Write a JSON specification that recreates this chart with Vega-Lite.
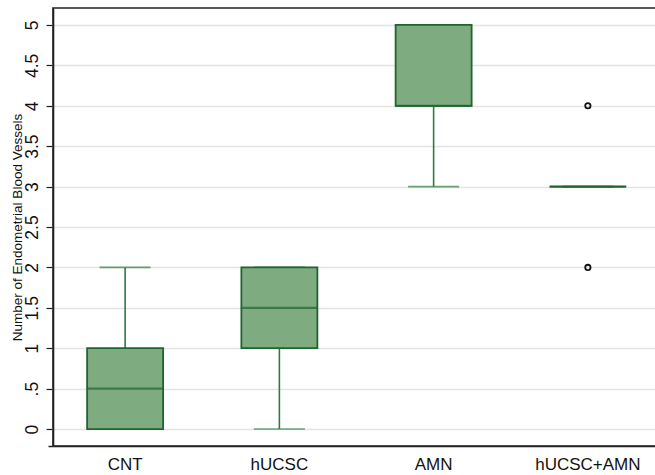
{
  "$schema": "https://vega.github.io/schema/vega-lite/v6.json",
  "autosize": {"type": "none"},
  "padding": {"left": 53, "top": 8, "right": 0, "bottom": 29},
  "width": 615,
  "height": 438,
  "background": "white",
  "config": {
    "font": "Liberation Sans",
    "view": {"stroke": "#222222", "strokeWidth": 1.6},
    "axis": {"domainColor": "#222222", "domainWidth": 1.6, "labelColor": "#111111", "titleColor": "#111111", "labelFont": "Liberation Sans", "titleFont": "Liberation Sans"}
  },
  "datasets": {
    "boxes": [
      {"group": "CNT", "lower": 0, "q1": 0, "median": 0.5, "q3": 1, "upper": 2},
      {"group": "hUCSC", "lower": 0, "q1": 1, "median": 1.5, "q3": 2, "upper": 2},
      {"group": "AMN", "lower": 3, "q1": 4, "median": 4, "q3": 5, "upper": 5},
      {"group": "hUCSC+AMN", "lower": 3, "q1": 3, "median": 3, "q3": 3, "upper": 3}
    ],
    "outliers": [
      {"group": "hUCSC+AMN", "value": 4},
      {"group": "hUCSC+AMN", "value": 2}
    ]
  },
  "encoding": {
    "x": {
      "field": "group", "type": "nominal",
      "sort": ["CNT", "hUCSC", "AMN", "hUCSC+AMN"],
      "scale": {"domain": ["CNT", "hUCSC", "AMN", "hUCSC+AMN"], "range": [-5, 612], "paddingInner": 0, "paddingOuter": 0},
      "axis": {"title": null, "labelAngle": 0, "labelFontSize": 17, "ticks": false, "labelPadding": 10, "grid": false}
    }
  },
  "layer": [
    {
      "data": {"name": "boxes"},
      "mark": {"type": "rule", "color": "#2f7a40", "strokeWidth": 1.6},
      "encoding": {
        "y": {
          "field": "lower", "type": "quantitative",
          "scale": {"domain": [-0.21, 5.21], "nice": false, "zero": false},
          "axis": {
            "title": "Number of Endometrial Blood Vessels",
            "titleFontSize": 13.5, "titleFontWeight": "normal",
            "titleX": -36, "titleY": 219, "titleAngle": -90, "titleAlign": "center", "titleBaseline": "middle",
            "values": [0, 0.5, 1, 1.5, 2, 2.5, 3, 3.5, 4, 4.5, 5],
            "labelExpr": "datum.value == 0.5 ? '.5' : format(datum.value, '')",
            "labelAngle": -90, "labelFontSize": 17.5, "labelPadding": 5,
            "tickSize": 7, "tickColor": "#222222", "tickWidth": 1.2,
            "grid": true, "gridColor": "#e3e3e3", "gridWidth": 1.5
          }
        },
        "y2": {"field": "upper"}
      }
    },
    {
      "data": {"name": "boxes"},
      "mark": {"type": "tick", "color": "#2f7a40", "size": 51, "thickness": 1.6},
      "encoding": {"y": {"field": "lower", "type": "quantitative"}}
    },
    {
      "data": {"name": "boxes"},
      "mark": {"type": "tick", "color": "#2f7a40", "size": 51, "thickness": 1.6},
      "encoding": {"y": {"field": "upper", "type": "quantitative"}}
    },
    {
      "data": {"name": "boxes"},
      "mark": {"type": "bar", "size": 76, "fill": "#7eab7f", "stroke": "#1f6530", "strokeWidth": 1.8},
      "encoding": {"y": {"field": "q1", "type": "quantitative"}, "y2": {"field": "q3"}}
    },
    {
      "data": {"name": "boxes"},
      "mark": {"type": "tick", "color": "#1f6530", "size": 77, "thickness": 2.2},
      "encoding": {"y": {"field": "median", "type": "quantitative"}}
    },
    {
      "data": {"name": "outliers"},
      "mark": {"type": "point", "shape": "circle", "filled": false, "color": "#111111", "size": 28, "strokeWidth": 1.8, "opacity": 1},
      "encoding": {"y": {"field": "value", "type": "quantitative"}}
    }
  ]
}
